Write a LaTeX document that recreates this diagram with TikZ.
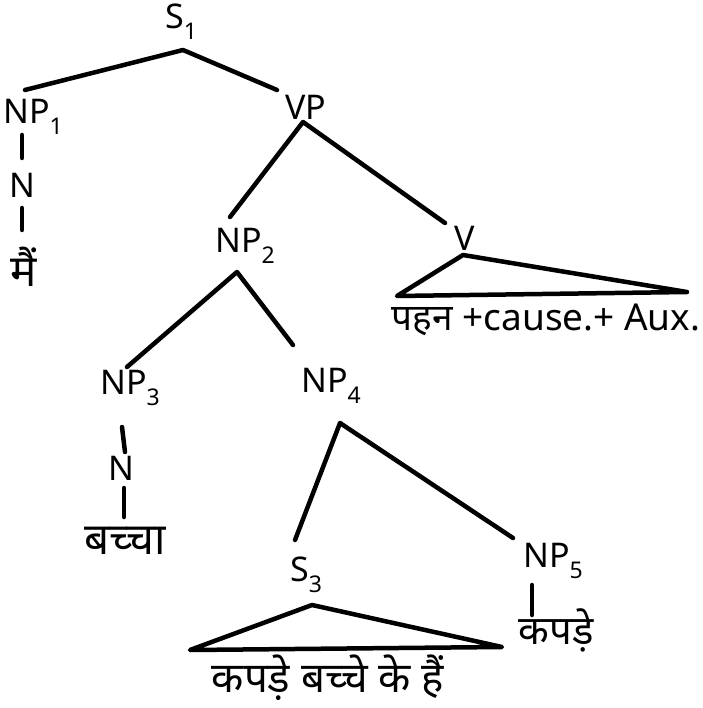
\documentclass[tikz,border=0pt]{standalone}
\usepackage{fontspec}
\setmainfont{Noto Sans}
\newfontfamily\devfont[Script=Devanagari]{Noto Sans}
\newcommand\subx[1]{\raisebox{-0.32em}{\fontsize{23}{23}\selectfont #1}}
\begin{document}
\begin{tikzpicture}[x=1pt,y=-1pt,
  lbl/.style={font=\fontsize{34}{36}\selectfont, inner sep=0pt},
  hin/.style={font=\devfont\fontsize{44}{46}\selectfont, inner sep=0pt},
  br/.style={line width=4.5pt, line cap=round, line join=round}]
\useasboundingbox[fill=white] (0,0) rectangle (702,708);
% labels
\node[lbl] (s1) at (181,22) {S\subx{1}};
\node[lbl] (np1) at (33,117) {NP\subx{1}};
\node[lbl] (n1) at (22,185) {N};
\node[hin] (mai) at (24,267) {मैं};
\node[lbl] (vp) at (306,107) {VP};
\node[lbl] (np2) at (245,246) {NP\subx{2}};
\node[lbl] (v) at (465,238) {V};
\node[hin, font=\devfont\fontsize{37}{40}\selectfont] (vtext) at (546,320) {पहन +cause.+ Aux.};
\node[lbl] (np3) at (130,388) {NP\subx{3}};
\node[lbl] (np4) at (331,386) {NP\subx{4}};
\node[lbl] (n3) at (121,468) {N};
\node[hin] (bacca) at (125,541) {बच्चा};
\node[lbl] (s3) at (306,575) {S\subx{3}};
\node[lbl] (np5) at (553,561) {NP\subx{5}};
\node[hin, font=\devfont\fontsize{40}{42}\selectfont] (kap) at (556,630) {कपड़े};
\node[hin, font=\devfont\fontsize{42}{44}\selectfont] (stext) at (328,678) {कपड़े बच्चे के हैं};
% connector points
\coordinate (s1b) at (183,50);
\coordinate (np1t) at (25,90);
\coordinate (vpt) at (277,90);
\coordinate (np1b) at (22,135);
\coordinate (n1t) at (22,158);
\coordinate (n1b) at (22,208);
\coordinate (mait) at (22,230);
\coordinate (vpb) at (303,122);
\coordinate (np2t) at (230,217);
\coordinate (vt) at (445,223);
\coordinate (va) at (463,255);
\coordinate (vl) at (397,296);
\coordinate (vr) at (687,292);
\coordinate (np2b) at (237,272);
\coordinate (np3t) at (127,367);
\coordinate (np4t) at (293,345);
\coordinate (np3b) at (122,427);
\coordinate (n3t) at (125,452);
\coordinate (n3b) at (124,488);
\coordinate (bact) at (124,517);
\coordinate (np4b) at (340,423);
\coordinate (s3t) at (295,540);
\coordinate (np5t) at (513,538);
\coordinate (sa) at (312,605);
\coordinate (sl) at (190,650);
\coordinate (sr) at (502,647);
\coordinate (np5b) at (532,585);
\coordinate (kapt) at (532,615);
% branches
\draw[br] (np1t) -- (s1b) -- (vpt);
\draw[br] (np1b) -- (n1t);
\draw[br] (n1b) -- (mait);
\draw[br] (np2t) -- (vpb) -- (vt);
\draw[br] (vl) -- (va) -- (vr) -- cycle;
\draw[br] (np3t) -- (np2b) -- (np4t);
\draw[br] (np3b) -- (n3t);
\draw[br] (n3b) -- (bact);
\draw[br] (s3t) -- (np4b) -- (np5t);
\draw[br] (sl) -- (sa) -- (sr) -- cycle;
\draw[br] (np5b) -- (kapt);
\end{tikzpicture}
\end{document}
